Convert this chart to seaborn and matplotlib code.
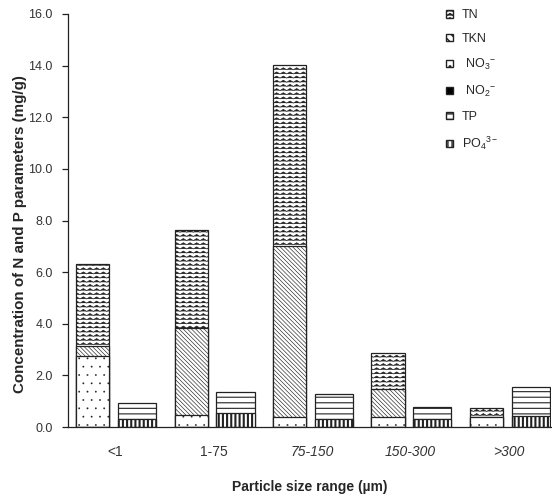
import warnings
import numpy as np
import seaborn as sns
import matplotlib.pyplot as plt
from matplotlib import hatch as mhatch
from matplotlib.path import Path
from matplotlib.patches import Patch

warnings.filterwarnings("ignore")

categories = ['<1', '1-75', '75-150', '150-300', '>300']
# N bar segments, bottom to top (mg/g)
no2 = [0.0, 0.0, 0.0, 0.0, 0.0]
no3 = [2.75, 0.46, 0.40, 0.40, 0.40]
tkn = [0.40, 3.36, 6.63, 1.06, 0.00]
tn = [3.15, 3.80, 7.00, 1.40, 0.35]
# P bar segments, bottom to top (mg/g)
po4 = [0.30, 0.53, 0.31, 0.32, 0.42]
tp = [0.62, 0.81, 0.96, 0.44, 1.14]


class ZigzagHatch(mhatch.HatchPatternBase):
    # wavy lines for the TN segment, hatch character 'z'
    def __init__(self, hatch, density):
        self.num_lines = int(hatch.count('z') * density)
        self.teeth = 15
        self.num_vertices = self.num_lines * (2 * self.teeth + 1)

    def set_vertices_and_codes(self, vertices, codes):
        n_pts = 2 * self.teeth + 1
        xs = np.linspace(0, 1, n_pts)
        bump = np.where(np.arange(n_pts) % 2 == 0, -0.01, 0.01)
        for i in range(self.num_lines):
            s = slice(i * n_pts, (i + 1) * n_pts)
            vertices[s, 0] = xs
            vertices[s, 1] = (i + 0.5) / self.num_lines + bump
            codes[s] = Path.LINETO
            codes[i * n_pts] = Path.MOVETO


mhatch._hatch_types.append(ZigzagHatch)

sns.set_style("white")
plt.rcParams['font.family'] = ['Liberation Sans', 'DejaVu Sans']
plt.rcParams['mathtext.fontset'] = 'custom'
plt.rcParams['mathtext.rm'] = 'Liberation Sans'
plt.rcParams['mathtext.it'] = 'Liberation Sans:italic'

fig = plt.figure(figsize=(5.52, 5.01), dpi=100)
ax = fig.add_axes([68 / 552, 74 / 501, 483 / 552, 413 / 501])

EDGE = '#222222'


def layer(heights, group, hatch, face='white', lw_hatch=0.5):
    gap = 0.25 if group == 'N' else 0.14
    with plt.rc_context({'hatch.linewidth': lw_hatch}):
        sns.barplot(x=categories, y=heights, hue=[group] * len(categories),
                    hue_order=['N', 'P'], palette={'N': face, 'P': face},
                    dodge=True, width=0.9, gap=gap, saturation=1,
                    hatch=hatch, edgecolor=EDGE, linewidth=0.9,
                    legend=False, ax=ax)


# N bars: draw cumulative tops first, lower segments over them
n_stack = np.cumsum([no2, no3, tkn, tn], axis=0)
layer(n_stack[3], 'N', 'zzzz', lw_hatch=0.5)
layer(n_stack[2], 'N', '\\' * 8, lw_hatch=0.45)
layer(n_stack[1], 'N', '..', lw_hatch=0.1)
layer(n_stack[0], 'N', None, face='black')

# P bars
p_stack = np.cumsum([po4, tp], axis=0)
layer(p_stack[1], 'P', '---', lw_hatch=0.8)
layer(p_stack[0], 'P', '||||', lw_hatch=1.5)

ax.set_ylim(0, 16)
ax.set_xlim(-0.477, 4.43)
yt = np.arange(0, 16.1, 2)
ax.set_yticks(yt)
ax.set_yticklabels([f'{v:.1f}' for v in yt])
ax.tick_params(axis='y', length=4, width=0.9, color=EDGE, pad=7,
               labelsize=9, labelcolor='#333333', left=True, direction='out')
ax.tick_params(axis='x', length=0, pad=13, labelsize=10, labelcolor='#333333')
for i, lab in enumerate(ax.get_xticklabels()):
    if i >= 2:
        lab.set_style('italic')

for side in ['top', 'right']:
    ax.spines[side].set_visible(False)
for side in ['left', 'bottom']:
    ax.spines[side].set_color(EDGE)
    ax.spines[side].set_linewidth(0.9)

ax.set_ylabel('Concentration of N and P parameters (mg/g)', fontsize=10.9,
              fontweight='bold')
ax.yaxis.set_label_coords(-0.085, 0.467)
ax.set_xlabel('Particle size range (µm)', fontsize=10, fontweight='bold')
ax.xaxis.set_label_coords(0.5, -0.128)

handles = [
    Patch(facecolor='white', edgecolor=EDGE, hatch='zzzz', label='TN'),
    Patch(facecolor='white', edgecolor=EDGE, hatch='\\\\\\\\', label='TKN'),
    Patch(facecolor='white', edgecolor=EDGE, hatch='..', label=r' NO$_3$$^{-}$'),
    Patch(facecolor='black', edgecolor=EDGE, label=r' NO$_2$$^{-}$'),
    Patch(facecolor='white', edgecolor=EDGE, hatch='---', label='TP'),
    Patch(facecolor='white', edgecolor=EDGE, hatch='||||', label=r'PO$_4$$^{3-}$'),
]
fig.legend(handles=handles, loc='upper left', bbox_to_anchor=(440 / 552, 1 - 3 / 501),
           frameon=False, fontsize=9, handlelength=0.55, handleheight=0.55,
           handletextpad=0.7, labelspacing=0.95, borderpad=0)

fig.savefig('out.png', dpi=100)
plt.close(fig)
